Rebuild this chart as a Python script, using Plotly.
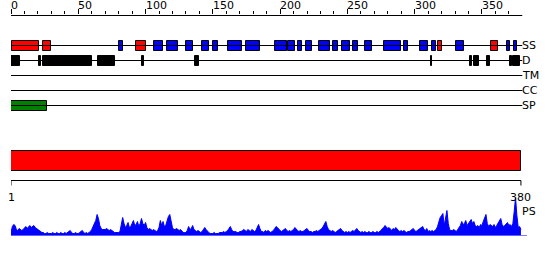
import plotly.graph_objects as go

# ---------------- data ----------------
seq_len = 380
ruler_major = [0, 50, 100, 150, 200, 250, 300, 350]
ruler_minor = list(range(0, 380, 10))

track_names = ["SS", "D", "TM", "CC", "SP"]

# secondary structure segments (start, end, kind) ; H = helix (red), E = strand (blue)
ss_start = [2, 25, 81, 94, 107, 117, 131, 143, 151, 162, 176, 197, 207, 214, 220, 230, 240, 247,
            255, 264, 278, 293, 305, 314, 318, 332, 358, 370, 375]
ss_end = [21, 30, 83, 100, 113, 124, 135, 147, 154, 172, 185, 205, 211, 216, 224, 237, 243, 252,
          258, 268, 290, 295, 310, 316, 320, 337, 362, 371, 376]
ss_kind = ["H", "H", "E", "H", "E", "E", "E", "E", "E", "E", "E", "E", "E", "E", "E", "E", "E", "E",
           "E", "E", "E", "E", "E", "E", "H", "E", "H", "E", "E"]

# disorder segments
dis_start = [1, 22, 25, 66, 98, 138, 313, 342, 345, 355, 372, 374]
dis_end = [7, 22, 60, 77, 99, 140, 313, 343, 348, 356, 372, 378]

# signal peptide
sp_start = [1]
sp_end = [27]

# domain bar
dom_start = [1]
dom_end = [380]

# PS profile (per residue)
ps = [3, 9, 11, 10, 6, 5, 7, 6, 5, 6,
      8, 9, 7, 9, 10, 8, 9, 10, 8, 7,
      6, 5, 4, 3, 3, 2, 2, 3, 2, 2,
      2, 3, 2, 2, 3, 2, 2, 3, 2, 2,
      3, 2, 3, 4, 5, 3, 2, 2, 3, 2,
      2, 3, 4, 5, 3, 2, 3, 2, 3, 4,
      6, 9, 12, 15, 21, 17, 10, 7, 6, 6,
      6, 7, 6, 5, 6, 5, 4, 3, 3, 3,
      3, 4, 10, 18, 12, 8, 10, 13, 8, 9,
      12, 15, 10, 11, 14, 9, 12, 17, 12, 10,
      13, 8, 6, 7, 6, 5, 6, 5, 4, 5,
      8, 15, 10, 14, 9, 10, 15, 19, 21, 15,
      8, 6, 6, 7, 6, 5, 6, 4, 3, 3,
      3, 5, 9, 6, 7, 10, 6, 5, 4, 5,
      4, 3, 4, 6, 8, 6, 4, 3, 2, 2,
      2, 3, 2, 2, 2, 3, 3, 3, 4, 3,
      4, 5, 7, 9, 6, 4, 4, 4, 3, 3,
      4, 4, 5, 6, 5, 4, 6, 5, 4, 6,
      5, 4, 5, 8, 11, 7, 4, 4, 3, 5,
      4, 5, 4, 3, 4, 5, 7, 9, 8, 6,
      5, 4, 5, 6, 7, 5, 4, 5, 4, 5,
      6, 8, 6, 5, 4, 5, 4, 4, 5, 6,
      7, 5, 4, 4, 3, 4, 4, 5, 4, 5,
      6, 7, 9, 12, 14, 9, 6, 5, 4, 5,
      4, 3, 4, 5, 6, 7, 5, 4, 3, 4,
      3, 4, 3, 4, 5, 4, 6, 7, 5, 4,
      3, 4, 3, 4, 3, 3, 4, 3, 3, 4,
      3, 3, 4, 3, 4, 5, 7, 8, 10, 8,
      7, 8, 6, 5, 7, 6, 8, 6, 5, 4,
      5, 4, 5, 4, 3, 4, 4, 5, 6, 7,
      5, 4, 5, 6, 7, 8, 9, 6, 5, 7,
      4, 5, 4, 5, 4, 5, 6, 9, 14, 18,
      20, 22, 10, 16, 25, 12, 6, 5, 5, 6,
      5, 4, 6, 8, 10, 14, 11, 12, 15, 10,
      12, 13, 16, 12, 14, 10, 9, 10, 8, 11,
      10, 14, 18, 21, 12, 9, 11, 10, 9, 11,
      8, 10, 12, 14, 17, 11, 9, 10, 12, 13,
      10, 11, 9, 12, 24, 38, 20, 8, 9, 6]

# ---------------- layout constants (pixel rows) ----------------
W, H = 550, 260
TOP = 15
track_y = {"SS": 45.5, "D": 60.5, "TM": 75.5, "CC": 90.5, "SP": 105.5}
BOX_H = 10
DOM_Y, DOM_H = 160.5, 20
RULER2_Y = 180.5
PS_BASE_PX, PS_TOP_PX, PS_MAX = 235.5, 195.5, 40
X_MAX = 385
FONT = "DejaVu Sans"

PX_PER = 511 / 380.0
left = 11
plot_w = X_MAX * PX_PER
plot_h = H - TOP

fig = go.Figure()

# track lines
for name in track_names:
    fig.add_trace(go.Scatter(x=[0, seq_len], y=[track_y[name]] * 2, mode="lines",
                             line=dict(color="black", width=1), hoverinfo="skip", showlegend=False))


def add_boxes(starts, ends, ycenter, height, colors):
    fig.add_trace(go.Bar(
        orientation="h",
        base=[s - 1 for s in starts],
        x=[e - s + 1 for s, e in zip(starts, ends)],
        y=[ycenter] * len(starts),
        width=height,
        marker=dict(color=colors, line=dict(color="black", width=1)),
        showlegend=False, hoverinfo="skip"))


color_map = {"H": "#ff0000", "E": "#0000ff"}
add_boxes(ss_start, ss_end, track_y["SS"], BOX_H, [color_map[k] for k in ss_kind])
add_boxes(dis_start, dis_end, track_y["D"], BOX_H, ["black"] * len(dis_start))
add_boxes(sp_start, sp_end, track_y["SP"], BOX_H, ["#008000"] * len(sp_start))
add_boxes(dom_start, [dom_end[0] - 1], DOM_Y, DOM_H, ["#ff0000"])

# bottom ruler
fig.add_trace(go.Scatter(x=[0, seq_len - 1], y=[RULER2_Y, RULER2_Y], mode="lines",
                         line=dict(color="black", width=1), hoverinfo="skip", showlegend=False))
fig.add_trace(go.Scatter(x=[0, 0, None, seq_len - 1, seq_len - 1],
                         y=[RULER2_Y, RULER2_Y + 5, None, RULER2_Y, RULER2_Y + 5], mode="lines",
                         line=dict(color="black", width=1), hoverinfo="skip", showlegend=False))

# PS profile
fig.add_trace(go.Scatter(x=[i for i in range(len(ps))], y=ps, mode="lines", fill="tozeroy",
                         fillcolor="#0000ff", line=dict(color="#0000ff", width=1),
                         yaxis="y2", hoverinfo="skip", showlegend=False))
fig.add_trace(go.Scatter(x=[0, X_MAX - 1.5], y=[0, 0], mode="lines",
                         line=dict(color="#0000ff", width=1), yaxis="y2",
                         hoverinfo="skip", showlegend=False))

# top ruler axis line
fig.add_trace(go.Scatter(x=[0, seq_len], y=[TOP + 0.5, TOP + 0.5], mode="lines",
                         line=dict(color="black", width=1), hoverinfo="skip", showlegend=False))

ann = []
for v in ruler_major:
    ann.append(dict(x=v, y=(H - (TOP - 1)) / plot_h, xref="x", yref="paper", text=str(v),
                    showarrow=False, xanchor="left", yanchor="bottom", xshift=-2,
                    font=dict(family=FONT, size=11, color="black")))
for name in track_names:
    ann.append(dict(x=seq_len, y=track_y[name], xref="x", yref="y", text=name, showarrow=False,
                    xanchor="left", yanchor="middle", xshift=-2,
                    font=dict(family=FONT, size=11, color="black")))
ann.append(dict(x=0, y=RULER2_Y + 8, xref="x", yref="y", text="1", showarrow=False,
                xanchor="center", yanchor="top", font=dict(family=FONT, size=11, color="black")))
ann.append(dict(x=seq_len - 1, y=RULER2_Y + 8, xref="x", yref="y", text=str(seq_len), showarrow=False,
                xanchor="center", yanchor="top", font=dict(family=FONT, size=11, color="black")))
ann.append(dict(x=seq_len, y=211, xref="x", yref="y", text="PS", showarrow=False,
                xanchor="left", yanchor="middle", xshift=-2,
                font=dict(family=FONT, size=11, color="black")))

fig.update_layout(
    width=W, height=H,
    margin=dict(l=left, r=W - left - plot_w, t=TOP, b=0, pad=0),
    paper_bgcolor="white", plot_bgcolor="white",
    barmode="overlay", bargap=0,
    showlegend=False,
    annotations=ann,
    xaxis=dict(range=[0, X_MAX], side="top", showgrid=False, zeroline=False, showline=False,
               tickmode="array", tickvals=ruler_major, ticks="outside", ticklen=5,
               tickcolor="black", tickwidth=1, showticklabels=False,
               minor=dict(tickmode="array", tickvals=ruler_minor, ticks="outside", ticklen=3,
                          tickcolor="black", tickwidth=1, showgrid=False)),
    yaxis=dict(range=[H, TOP], showgrid=False, zeroline=False, showticklabels=False,
               ticks="", showline=False, domain=[0, 1]),
    yaxis2=dict(range=[0, PS_MAX], anchor="x", showgrid=False, zeroline=False,
                showticklabels=False, ticks="", showline=False,
                domain=[(H - PS_BASE_PX) / plot_h, (H - PS_TOP_PX) / plot_h]),
)

fig.write_html("out.html", config={"displayModeBar": False})
